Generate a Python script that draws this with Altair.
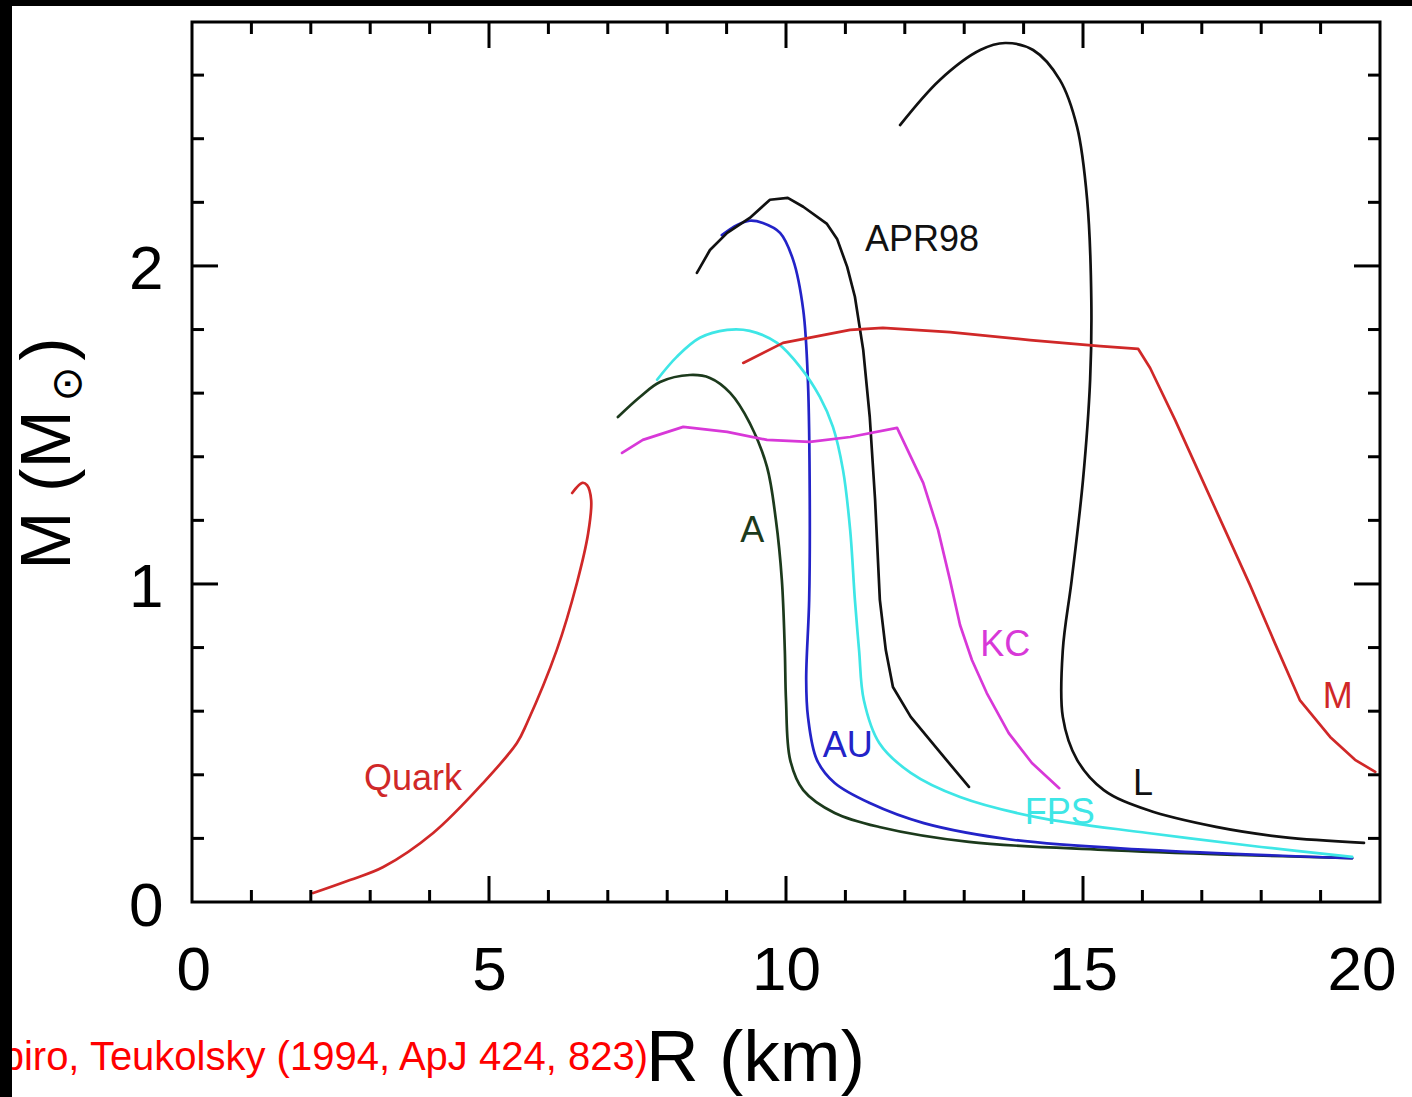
import altair as alt
import pandas as pd

FONT = "Liberation Sans"

# ---------------- data ----------------
eos_names = ["L", "APR98", "A", "AU", "FPS", "KC", "M", "Quark"]
eos_colors = ["#111111", "#111111", "#1c3a1c", "#2323c8", "#3ee6e6", "#d838d8", "#d02828", "#d02828"]

L_R = [11.92, 12.59, 13.27, 13.69, 14.16, 14.61, 14.90, 15.07, 15.14, 15.12, 15.00, 14.81, 14.66, 14.66, 14.90, 15.35, 16.09, 17.24, 18.37, 19.73]
L_M = [2.443, 2.585, 2.679, 2.701, 2.679, 2.585, 2.437, 2.208, 1.893, 1.642, 1.327, 1.013, 0.792, 0.582, 0.447, 0.352, 0.289, 0.236, 0.204, 0.186]

APR_R = [8.50, 8.72, 9.01, 9.39, 9.73, 10.03, 10.29, 10.69, 10.86, 11.03, 11.16, 11.30, 11.41, 11.50, 11.58, 11.68, 11.80, 12.10, 12.56, 13.08]
APR_M = [1.978, 2.050, 2.104, 2.151, 2.208, 2.214, 2.186, 2.132, 2.085, 1.997, 1.903, 1.736, 1.525, 1.264, 0.950, 0.792, 0.676, 0.582, 0.478, 0.362]

A_R = [7.17, 7.54, 7.88, 8.38, 8.72, 9.06, 9.39, 9.68, 9.83, 9.93, 9.98, 10.00, 10.07, 10.29, 10.82, 11.57, 13.08, 15.35, 17.61, 19.53]
A_M = [1.525, 1.588, 1.635, 1.657, 1.648, 1.601, 1.506, 1.368, 1.201, 1.013, 0.792, 0.635, 0.447, 0.352, 0.280, 0.236, 0.189, 0.164, 0.148, 0.138]

AU_R = [8.92, 9.18, 9.39, 9.61, 9.90, 10.12, 10.29, 10.37, 10.40, 10.39, 10.34, 10.37, 10.52, 10.82, 11.41, 12.32, 13.84, 16.09, 19.53]
AU_M = [2.097, 2.129, 2.142, 2.135, 2.104, 2.019, 1.862, 1.632, 1.264, 0.950, 0.698, 0.582, 0.447, 0.374, 0.311, 0.248, 0.195, 0.164, 0.138]

FPS_R = [7.83, 8.16, 8.55, 9.01, 9.39, 9.85, 10.24, 10.57, 10.79, 10.96, 11.08, 11.16, 11.23, 11.31, 11.57, 12.10, 12.93, 14.21, 16.09, 18.00, 19.53]
FPS_M = [1.642, 1.714, 1.774, 1.799, 1.796, 1.758, 1.682, 1.588, 1.494, 1.358, 1.170, 0.950, 0.792, 0.635, 0.500, 0.406, 0.330, 0.267, 0.217, 0.173, 0.142]

KC_R = [7.24, 7.59, 8.27, 9.01, 9.68, 10.40, 11.08, 11.87, 12.31, 12.56, 12.76, 12.93, 13.13, 13.38, 13.75, 14.14, 14.60]
KC_M = [1.412, 1.453, 1.494, 1.478, 1.453, 1.447, 1.462, 1.491, 1.318, 1.170, 1.013, 0.871, 0.761, 0.657, 0.531, 0.437, 0.358]

M_R = [9.28, 9.95, 11.08, 11.63, 12.76, 14.11, 15.29, 15.93, 16.13, 16.55, 16.97, 17.39, 17.81, 18.23, 18.65, 19.16, 19.58, 19.92]
M_M = [1.695, 1.758, 1.799, 1.805, 1.792, 1.767, 1.748, 1.739, 1.679, 1.516, 1.343, 1.170, 0.997, 0.814, 0.635, 0.519, 0.447, 0.409]

Q_R = [2.04, 2.66, 3.22, 4.06, 4.90, 5.47, 5.64, 6.14, 6.48, 6.67, 6.72, 6.65, 6.57, 6.40]
Q_M = [0.028, 0.069, 0.110, 0.217, 0.374, 0.500, 0.563, 0.792, 1.003, 1.160, 1.264, 1.311, 1.318, 1.286]

label_text = ["APR98", "A", "AU", "KC", "FPS", "L", "M", "Quark"]
label_R = [12.29, 9.43, 11.04, 13.69, 14.61, 16.01, 19.29, 3.72]
label_M = [2.082, 1.167, 0.491, 0.808, 0.280, 0.371, 0.645, 0.387]

x_major = [0, 5, 10, 15, 20]
x_minor = [1, 2, 3, 4, 6, 7, 8, 9, 11, 12, 13, 14, 16, 17, 18, 19]
y_major = [0, 1, 2]
y_minor = [0.2, 0.4, 0.6, 0.8, 1.2, 1.4, 1.6, 1.8, 2.2, 2.4, 2.6]

citation = "piro, Teukolsky (1994, ApJ 424, 823)"

# ---------------- tables ----------------
smooth_curves = {"L": (L_R, L_M), "A": (A_R, A_M), "AU": (AU_R, AU_M),
                 "FPS": (FPS_R, FPS_M), "Quark": (Q_R, Q_M)}
kinked_curves = {"APR98": (APR_R, APR_M), "KC": (KC_R, KC_M), "M": (M_R, M_M)}


def to_df(curves):
    rows = []
    for name, (rs, ms) in curves.items():
        for i, (r, m) in enumerate(zip(rs, ms)):
            rows.append({"eos": name, "R": r, "M": m, "i": i})
    return pd.DataFrame(rows)


label_df = pd.DataFrame({"eos": label_text, "label": label_text, "R": label_R, "M": label_M})

W, H = 1188, 880
xs = alt.Scale(domain=[0, 20], nice=False, zero=False)
ys = alt.Scale(domain=[0, 2.767], nice=False, zero=False)
cs = alt.Scale(domain=eos_names, range=eos_colors)

x_axis = alt.Axis(values=x_major, labelFontSize=62, labelFont=FONT, labelColor="black",
                  labelPadding=38, labelFlush=True, labelFlushOffset=16, labelOverlap=False,
                  ticks=False, domain=False, grid=False, format="d", title="R (km)",
                  titleFontSize=73, titleFont=FONT, titleFontWeight="normal", titleColor="black",
                  titleX=563, titleY=178, titleBaseline="alphabetic", titleAlign="center")
y_axis = alt.Axis(values=y_major, labelFontSize=62, labelFont=FONT, labelColor="black",
                  labelPadding=29, labelFlush=False, labelOverlap=False, ticks=False, domain=False,
                  grid=False, format="d", title=None, labelOffset=4)

X = alt.X("R:Q", scale=xs, axis=x_axis)
Y = alt.Y("M:Q", scale=ys, axis=y_axis)
C = alt.Color("eos:N", scale=cs, legend=None)

lines_smooth = alt.Chart(to_df(smooth_curves)).mark_line(
    strokeWidth=2.7, strokeJoin="round", strokeCap="round", interpolate="catmull-rom").encode(
    x=X, y=Y, color=C, order="i:Q", detail="eos:N")
lines_kinked = alt.Chart(to_df(kinked_curves)).mark_line(
    strokeWidth=2.7, strokeJoin="round", strokeCap="round").encode(
    x=X, y=Y, color=C, order="i:Q", detail="eos:N")

labels = alt.Chart(label_df).mark_text(fontSize=36, font=FONT, align="center", baseline="middle").encode(
    x=X, y=Y, text="label:N", color=C)


def xticks(vals, length):
    d = pd.DataFrame({"R": vals})
    bottom = alt.Chart(d).mark_rule(color="black", strokeWidth=3).encode(
        x=X, y=alt.value(H), y2=alt.value(H - length))
    top = alt.Chart(d).mark_rule(color="black", strokeWidth=3).encode(
        x=X, y=alt.value(0), y2=alt.value(length))
    return [bottom, top]


def yticks(vals, length):
    d = pd.DataFrame({"M": vals})
    left = alt.Chart(d).mark_rule(color="black", strokeWidth=3).encode(
        y=Y, x=alt.value(0), x2=alt.value(length))
    right = alt.Chart(d).mark_rule(color="black", strokeWidth=3).encode(
        y=Y, x=alt.value(W), x2=alt.value(W - length))
    return [left, right]


ticks = xticks(x_major[1:-1], 26) + xticks(x_minor, 12) + yticks(y_major[1:], 26) + yticks(y_minor, 12)

# y-axis title drawn as rotated text pieces (the sun symbol is a subscript)
ytitle_main = alt.Chart(pd.DataFrame({"t": ["M (M"]})).mark_text(
    angle=270, fontSize=70, font=FONT, align="center", baseline="alphabetic", color="black").encode(
    x=alt.value(-122), y=alt.value(468), text="t:N")
ytitle_sun = alt.Chart(pd.DataFrame({"t": ["\u2299"]})).mark_text(
    angle=270, fontSize=42, font="DejaVu Sans", align="center", baseline="middle", color="black").encode(
    x=alt.value(-124), y=alt.value(362), text="t:N")
ytitle_close = alt.Chart(pd.DataFrame({"t": [")"]})).mark_text(
    angle=270, fontSize=70, font=FONT, align="center", baseline="alphabetic", color="black").encode(
    x=alt.value(-122), y=alt.value(327), text="t:N")

cite = alt.Chart(pd.DataFrame({"t": [citation]})).mark_text(
    fontSize=40, font=FONT, align="right", baseline="alphabetic", color="#ff0000").encode(
    x=alt.value(456), y=alt.value(1048), text="t:N")

band_left = alt.Chart(pd.DataFrame({"k": [0]})).mark_rect(color="black").encode(
    x=alt.value(-192), x2=alt.value(-180), y=alt.value(-22), y2=alt.value(1075))
band_top = alt.Chart(pd.DataFrame({"k": [0]})).mark_rect(color="black").encode(
    x=alt.value(-192), x2=alt.value(1220), y=alt.value(-22), y2=alt.value(-16))

chart = alt.layer(lines_smooth, lines_kinked, labels, *ticks, ytitle_main, ytitle_sun, ytitle_close,
                  cite, band_left, band_top).properties(
    width=W, height=H, autosize=alt.AutoSizeParams(type="none"),
    padding={"left": 192, "top": 22, "right": 32, "bottom": 195},
    background="white",
).configure_view(stroke="black", strokeWidth=3)

chart.save("out.html", embed_options={"renderer": "svg", "actions": False})
